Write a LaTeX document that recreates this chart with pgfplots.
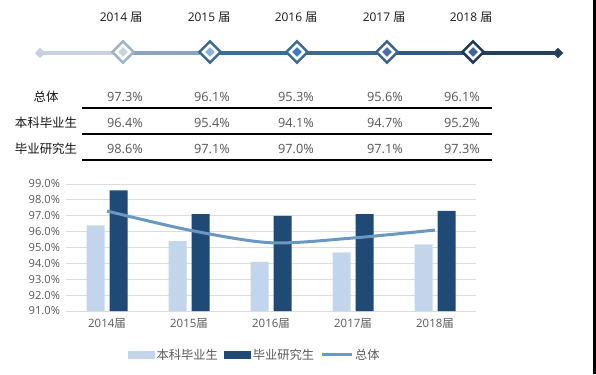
\documentclass[border=0pt]{standalone}
\usepackage{pgfplots}
\pgfplotsset{compat=1.18}
\usepackage{fontspec}
\setmainfont{Open Sans}
\newfontfamily\cjk{Noto Sans CJK SC}
\definecolor{ca}{HTML}{C9D2DC}
\definecolor{cb}{HTML}{8BA3BF}
\definecolor{cc}{HTML}{3F6C94}
\definecolor{cd}{HTML}{40688C}
\definecolor{ce}{HTML}{34597A}
\definecolor{cf}{HTML}{23405A}
\definecolor{mo1}{HTML}{9FB2C7}
\definecolor{mi1}{HTML}{C8D3E0}
\definecolor{mo2}{HTML}{3D6A90}
\definecolor{mi2}{HTML}{8FB0D8}
\definecolor{mo3}{HTML}{3B6C95}
\definecolor{mi3}{HTML}{3F7AC0}
\definecolor{mo4}{HTML}{3A6488}
\definecolor{mi4}{HTML}{4A6FA8}
\definecolor{mo5}{HTML}{1F3A55}
\definecolor{mi5}{HTML}{3D64A0}
\definecolor{lightbar}{HTML}{C3D5EA}
\definecolor{darkbar}{HTML}{1F4A75}
\definecolor{linec}{HTML}{6A98C0}
\definecolor{gridc}{HTML}{DCDCDC}
\definecolor{labc}{HTML}{595959}
\definecolor{valc}{HTML}{555555}
\pgfplotstableread{
x light dark total
0 96.4 98.6 97.3
1 95.4 97.1 96.1
2 94.1 97.0 95.3
3 94.7 97.1 95.6
4 95.2 97.3 96.1
}\datatable
\begin{document}
\begin{tikzpicture}[x=1bp,y=1bp]
\path[use as bounding box] (0,0) rectangle (596,374);
\begin{axis}[at={(0bp,0bp)}, anchor=south west, scale only axis,
  width=596bp, height=374bp, xmin=0, xmax=596, ymin=0, ymax=374,
  y dir=reverse, hide axis, clip=false]
% timeline segments
\addplot[line width=4bp, ca] coordinates {(40,53) (123,53)};
\addplot[line width=4bp, cb] coordinates {(123,53) (210,53)};
\addplot[line width=4bp, cc] coordinates {(210,53) (297,53)};
\addplot[line width=4bp, cd] coordinates {(297,53) (387,53)};
\addplot[line width=4bp, ce] coordinates {(387,53) (473,53)};
\addplot[line width=4bp, cf] coordinates {(473,53) (558,53)};
% end diamonds
\addplot[ca, only marks, mark=square*, mark size=3.6bp, mark options={rotate=45, fill=ca, draw=ca, line width=0.1bp}] coordinates {(40,53)};
\addplot[cf, only marks, mark=square*, mark size=3.6bp, mark options={rotate=45, fill=cf, draw=cf, line width=0.1bp}] coordinates {(558,53)};
% year markers
\addplot[mo1, only marks, mark=square*, mark size=7.5bp, mark options={rotate=45, fill=white, draw=mo1, line width=2.6bp}] coordinates {(123,52)};
\addplot[mi1, only marks, mark=square*, mark size=3.3bp, mark options={rotate=45, fill=mi1, draw=mi1, line width=0.1bp}] coordinates {(123,52)};
\addplot[mo2, only marks, mark=square*, mark size=7.5bp, mark options={rotate=45, fill=white, draw=mo2, line width=2.6bp}] coordinates {(210,52)};
\addplot[mi2, only marks, mark=square*, mark size=3.3bp, mark options={rotate=45, fill=mi2, draw=mi2, line width=0.1bp}] coordinates {(210,52)};
\addplot[mo3, only marks, mark=square*, mark size=7.5bp, mark options={rotate=45, fill=white, draw=mo3, line width=2.6bp}] coordinates {(297,52)};
\addplot[mi3, only marks, mark=square*, mark size=3.3bp, mark options={rotate=45, fill=mi3, draw=mi3, line width=0.1bp}] coordinates {(297,52)};
\addplot[mo4, only marks, mark=square*, mark size=7.5bp, mark options={rotate=45, fill=white, draw=mo4, line width=2.6bp}] coordinates {(387,52)};
\addplot[mi4, only marks, mark=square*, mark size=3.3bp, mark options={rotate=45, fill=mi4, draw=mi4, line width=0.1bp}] coordinates {(387,52)};
\addplot[mo5, only marks, mark=square*, mark size=7.5bp, mark options={rotate=45, fill=white, draw=mo5, line width=2.6bp}] coordinates {(473,52)};
\addplot[mi5, only marks, mark=square*, mark size=3.3bp, mark options={rotate=45, fill=mi5, draw=mi5, line width=0.1bp}] coordinates {(473,52)};
% year labels
\begin{scope}[every node/.style={font=\fontsize{12}{14}\selectfont, text=black!90}]
\node at (axis cs:121,17.5) {2014 {\cjk 届}};
\node at (axis cs:209,17.5) {2015 {\cjk 届}};
\node at (axis cs:296,17.5) {2016 {\cjk 届}};
\node at (axis cs:384,17.5) {2017 {\cjk 届}};
\node at (axis cs:471,17.5) {2018 {\cjk 届}};
\end{scope}
% table
\begin{scope}[every node/.style={font=\fontsize{12.5}{14}\selectfont\cjk, text=black!92}]
\node at (axis cs:46,97) {总体};
\node at (axis cs:46,123) {本科毕业生};
\node at (axis cs:46,149) {毕业研究生};
\end{scope}
\begin{scope}[every node/.style={font=\fontsize{12.8}{14}\selectfont, text=valc}]
\node at (axis cs:125,97) {97.3\%};
\node at (axis cs:212,97) {96.1\%};
\node at (axis cs:296,97) {95.3\%};
\node at (axis cs:385,97) {95.6\%};
\node at (axis cs:462,97) {96.1\%};
\node at (axis cs:125,123) {96.4\%};
\node at (axis cs:212,123) {95.4\%};
\node at (axis cs:296,123) {94.1\%};
\node at (axis cs:385,123) {94.7\%};
\node at (axis cs:462,123) {95.2\%};
\node at (axis cs:125,149) {98.6\%};
\node at (axis cs:212,149) {97.1\%};
\node at (axis cs:296,149) {97.0\%};
\node at (axis cs:385,149) {97.1\%};
\node at (axis cs:462,149) {97.3\%};
\end{scope}
\addplot[black, line width=2bp] coordinates {(82,108.5) (492,108.5)};
\addplot[black, line width=1.5bp] coordinates {(82,134) (492,134)};
\addplot[black, line width=2bp] coordinates {(82,160) (492,160)};
\end{axis}
% right edge strip (screenshot border)
\fill[black] (592.5,0) rectangle (596,374);

\begin{axis}[at={(66bp,63bp)}, anchor=south west, scale only axis,
  width=410bp, height=127bp,
  xmin=-0.5, xmax=4.5, ymin=91, ymax=99,
  ytick={91,92,...,99}, xtick={0,1,2,3,4},
  xticklabels={{2014{\cjk 届}},{2015{\cjk 届}},{2016{\cjk 届}},{2017{\cjk 届}},{2018{\cjk 届}}},
  ymajorgrids, grid style={gridc, line width=0.9bp},
  axis line style={draw=none}, major tick style={draw=none},
  /pgf/number format/assume math mode=true,
  yticklabel={\pgfmathprintnumber[fixed,fixed zerofill,precision=1]{\tick}\%},
  yticklabel style={font=\fontsize{11.2}{12}\selectfont, text=labc, xshift=-2.5bp},
  xticklabel style={font=\fontsize{11.5}{12}\selectfont, text=labc, yshift=-4bp},
  legend columns=3,
  legend style={at={(0.46,-0.346)}, anchor=center, draw=none, fill=none,
    font=\fontsize{12.3}{13}\selectfont\cjk, text=labc,
    /tikz/every even column/.append style={column sep=4bp}},
  ]
\addplot[ybar, bar width=18bp, bar shift=-11.5bp, fill=lightbar, draw=none,
  legend image code/.code={\fill[lightbar] (0bp,-4bp) rectangle (27bp,4bp);}]
  table[x=x, y=light] {\datatable};
\addlegendentry{本科毕业生}
\addplot[ybar, bar width=18bp, bar shift=11.5bp, fill=darkbar, draw=none,
  legend image code/.code={\fill[darkbar] (0bp,-4bp) rectangle (27bp,4bp);}]
  table[x=x, y=dark] {\datatable};
\addlegendentry{毕业研究生}
\addplot[smooth, line width=3bp, linec,
  legend image code/.code={\draw[linec, line width=3bp] (0bp,0bp) -- (30bp,0bp);}]
  table[x=x, y=total] {\datatable};
\addlegendentry{总体}
\end{axis}
\end{tikzpicture}
\end{document}
